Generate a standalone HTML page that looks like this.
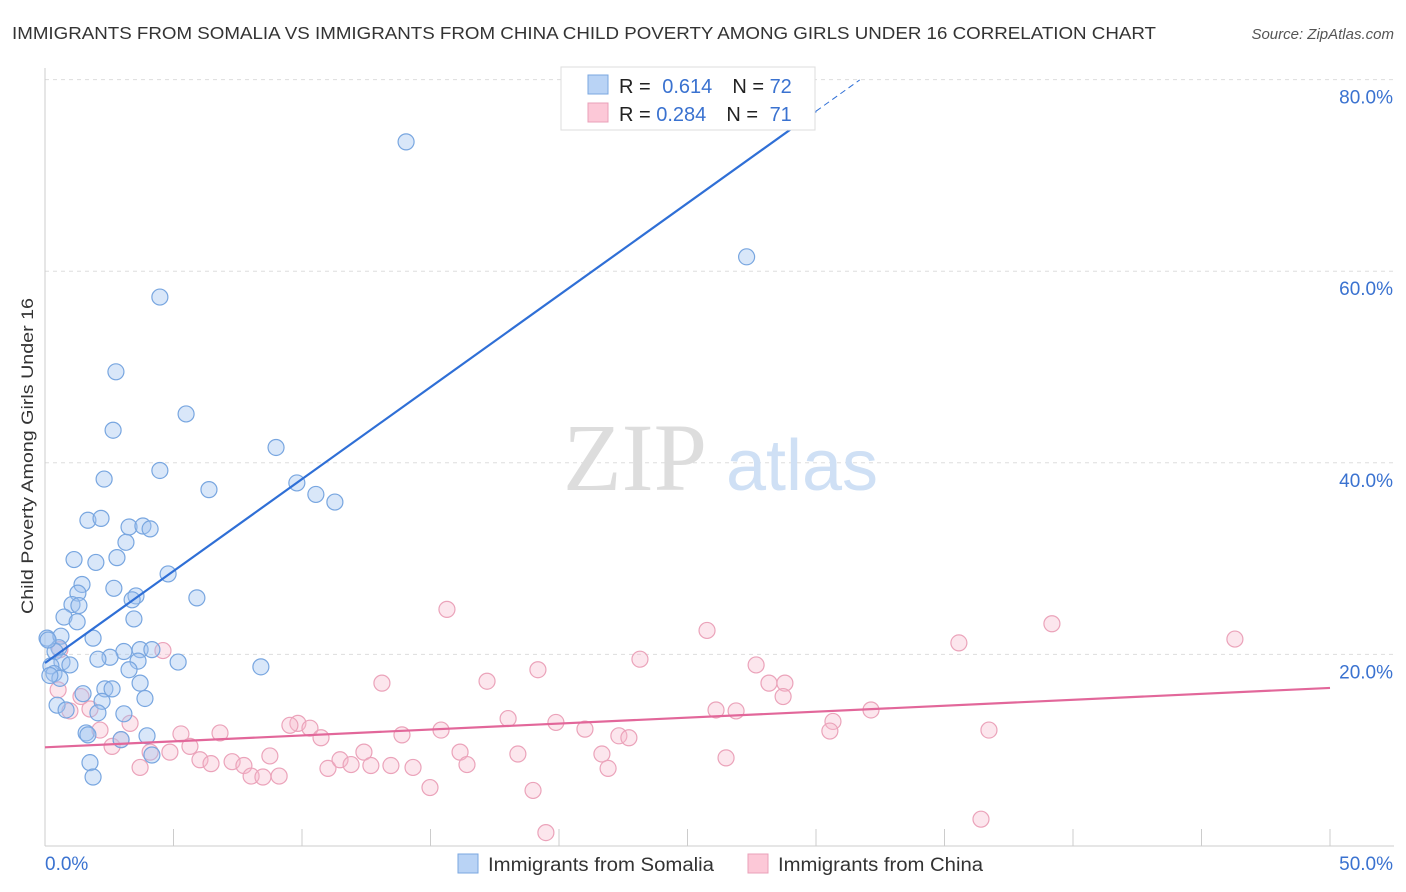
<!DOCTYPE html>
<html><head><meta charset="utf-8"><style>
body{margin:0;background:#fff;font-family:"Liberation Sans",sans-serif}
svg{display:block}
</style></head><body>
<svg id="chart" width="1406" height="892" xmlns="http://www.w3.org/2000/svg">
<text x="12" y="39" font-size="17.5" fill="#333" textLength="1144" lengthAdjust="spacingAndGlyphs">IMMIGRANTS FROM SOMALIA VS IMMIGRANTS FROM CHINA CHILD POVERTY AMONG GIRLS UNDER 16 CORRELATION CHART</text>
<text x="1394" y="39" font-size="15" fill="#555" text-anchor="end" font-style="italic">Source: ZipAtlas.com</text>
<text transform="translate(33,456) rotate(-90)" font-size="17" fill="#333" text-anchor="middle" textLength="316" lengthAdjust="spacingAndGlyphs">Child Poverty Among Girls Under 16</text>
<g id="grid"></g>
<g>
<text x="635" y="490" font-size="96" font-family="Liberation Serif,serif" fill="#ddd" text-anchor="middle">ZIP</text>
<text x="802" y="490" font-size="72" fill="#cfe0f5" text-anchor="middle">atlas</text>
</g>
<g id="axes"></g>
<g id="pts"></g>
<g id="trend"></g>
<g>
<rect x="561" y="67" width="254" height="63" fill="#fff" stroke="#ddd"/>
<rect x="588" y="75" width="20" height="19" fill="#b9d3f5" stroke="#7aa7e0"/>
<rect x="588" y="103" width="20" height="19" fill="#fcc8d7" stroke="#eaa0b8"/>
<text x="619" y="93" font-size="20" fill="#222">R = <tspan fill="#3a72d0" dx="6">0.614</tspan><tspan dx="20" fill="#222">N = </tspan><tspan fill="#3a72d0">72</tspan></text>
<text x="619" y="121" font-size="20" fill="#222">R = <tspan fill="#3a72d0">0.284</tspan><tspan dx="20" fill="#222">N = </tspan><tspan fill="#3a72d0" dx="6">71</tspan></text>
</g>
<g>
<rect x="458" y="854" width="20" height="19" fill="#b9d3f5" stroke="#7aa7e0"/>
<text x="488" y="871" font-size="19" fill="#333" textLength="226" lengthAdjust="spacingAndGlyphs">Immigrants from Somalia</text>
<rect x="748" y="854" width="20" height="19" fill="#fcc8d7" stroke="#eaa0b8"/>
<text x="778" y="871" font-size="19" fill="#333" textLength="205" lengthAdjust="spacingAndGlyphs">Immigrants from China</text>
</g>
</svg>
<script>
const somaliaX=[14.05,27.3,4.47,2.76,5.49,2.65,8.99,4.47,2.30,6.38,9.80,10.54,11.28,1.67,2.18,3.27,3.81,4.09,3.15,1.13,1.98,2.80,4.79,1.44,2.68,1.28,3.54,3.39,1.05,1.32,0.74,1.25,3.46,5.91,0.08,0.62,1.87,0.54,0.39,3.07,3.70,4.16,2.53,2.06,3.62,5.18,0.66,0.97,0.23,8.40,3.27,0.35,0.58,3.70,2.33,2.61,1.48,3.89,2.22,0.47,0.82,2.06,3.07,1.60,1.67,3.97,2.96,4.16,1.75,1.87,0.19,0.12];
const somaliaY=[73.5,61.5,57.3,49.5,45.1,43.4,41.6,39.2,38.3,37.2,37.9,36.7,35.9,34.0,34.2,33.3,33.4,33.1,31.7,29.9,29.6,30.1,28.4,27.3,26.9,26.4,26.1,25.7,25.2,25.1,23.9,23.4,23.7,25.9,21.7,21.9,21.7,20.7,20.3,20.3,20.5,20.5,19.7,19.5,19.3,19.2,19.2,18.9,18.8,18.7,18.4,18.0,17.5,17.0,16.4,16.4,15.9,15.4,15.1,14.7,14.2,13.9,13.8,11.8,11.6,11.5,11.1,9.5,8.7,7.2,17.8,21.5];
const chinaX=[15.64,25.76,35.56,39.18,46.3,23.15,4.59,19.18,27.67,17.2,13.11,28.17,28.79,28.72,0.51,1.40,1.75,0.97,2.14,3.31,5.29,6.81,9.84,10.31,10.74,13.89,15.41,18.02,19.88,21.01,22.33,22.72,26.11,26.89,30.66,30.54,32.14,36.73,2.61,2.96,4.09,4.86,5.64,6.03,6.46,7.28,7.74,8.75,8.02,8.48,9.11,11.01,11.48,11.91,12.41,12.68,13.46,14.32,16.15,16.42,18.40,21.67,21.91,26.50,3.70,14.98,18.99,19.49,36.42,0.58,9.53];
const chinaY=[24.7,22.5,21.2,23.2,21.6,19.5,20.4,18.4,18.9,17.2,17.0,17.0,17.0,15.6,16.3,15.6,14.3,14.1,12.1,12.8,11.7,11.8,12.8,12.3,11.3,11.6,12.1,13.3,12.9,12.2,11.5,11.3,14.2,14.1,13.0,12.0,14.2,12.1,10.4,11.1,9.8,9.8,10.4,9.0,8.6,8.8,8.4,9.4,7.3,7.2,7.3,8.1,9.0,8.5,9.8,8.4,8.4,8.2,9.8,8.5,9.6,9.6,8.1,9.2,8.2,6.1,5.8,1.4,2.8,20.5,12.6];
const yTicks=[20,40,60,80];
const yTickLabels=["20.0%","40.0%","60.0%","80.0%"];
const xTicks=[0,5,10,15,20,25,30,35,40,45,50];
const blueTrend=[19.1,1.92];
const pinkTrend=[10.3,0.124];
const NS="http://www.w3.org/2000/svg";
const xs=v=>45+v*25.7, ys=v=>846-v*9.58;
function mk(p,t,a){const e=document.createElementNS(NS,t);for(const k in a)e.setAttribute(k,a[k]);p.appendChild(e);return e;}
const grid=document.getElementById('grid'),axes=document.getElementById('axes'),pts=document.getElementById('pts'),tr=document.getElementById('trend');
yTicks.forEach((v,i)=>{
 const l=mk(grid,'line',{x1:45,x2:1394,y1:ys(v),y2:ys(v),stroke:'#ddd','stroke-dasharray':'4,4'});
 
 
 const t=mk(axes,'text',{x:1393,y:ys(v)+24,'font-size':19,fill:'#3a72d0','text-anchor':'end'});
 t.textContent=yTickLabels[i];
 
 
});
mk(axes,'line',{x1:45,x2:45,y1:68,y2:846,stroke:'#ccc'});
mk(axes,'line',{x1:45,x2:1394,y1:846,y2:846,stroke:'#ccc'});
xTicks.forEach(v=>{const l=mk(axes,'line',{x1:xs(v),x2:xs(v),y1:829,y2:846,stroke:'#ccc'});
 
 });
let t=mk(axes,'text',{x:45,y:870,'font-size':19,fill:'#3a72d0'});t.textContent='0.0%';


t=mk(axes,'text',{x:1393,y:870,'font-size':19,fill:'#3a72d0','text-anchor':'end'});t.textContent='50.0%';


chinaX.forEach((x,i)=>{const c=mk(pts,'circle',{cx:xs(x),cy:ys(chinaY[i]),r:8,fill:'rgba(246,182,202,0.35)',stroke:'#eba3ba','stroke-width':1.2});
 
 });
somaliaX.forEach((x,i)=>{const c=mk(pts,'circle',{cx:xs(x),cy:ys(somaliaY[i]),r:8,fill:'rgba(160,196,240,0.4)',stroke:'#78a6e0','stroke-width':1.2});
 
 });
let l=mk(tr,'line',{x1:xs(0),y1:ys(blueTrend[0]),x2:xs(30),y2:ys(blueTrend[0]+blueTrend[1]*30),stroke:'#2f6fd6','stroke-width':2.2});


l=mk(tr,'line',{x1:xs(30),y1:ys(blueTrend[0]+blueTrend[1]*30),x2:xs(31.7),y2:ys(blueTrend[0]+blueTrend[1]*31.7),stroke:'#2f6fd6','stroke-width':1,'stroke-dasharray':'6,4'});


l=mk(tr,'line',{x1:xs(0),y1:ys(pinkTrend[0]),x2:xs(50),y2:ys(pinkTrend[0]+pinkTrend[1]*50),stroke:'#e2679a','stroke-width':2.2});


</script>
</body></html>
